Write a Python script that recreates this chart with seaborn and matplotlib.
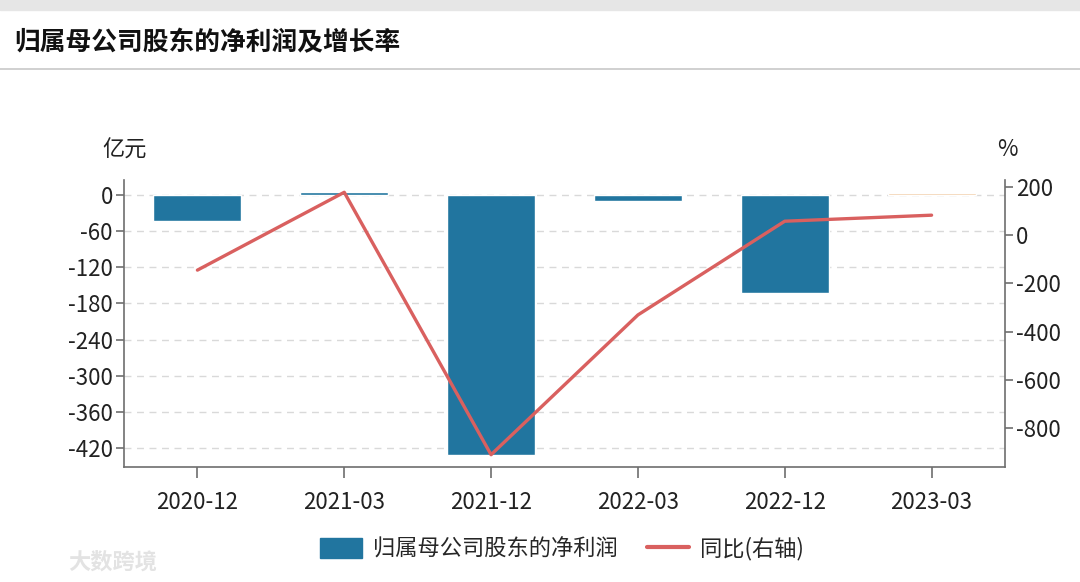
import numpy as np
import pandas as pd
import seaborn as sns
import matplotlib.pyplot as plt
import matplotlib.patches as mpatches
from matplotlib.lines import Line2D

# ---------------- data ----------------
periods = ['2020-12', '2021-03', '2021-12', '2022-03', '2022-12', '2023-03']
net_profit = [-43, 5, -432, -10, -162, 3]        # 亿元
yoy = [-145, 178, -911, -331, 58, 83]            # %
left_ticks = [0, -60, -120, -180, -240, -300, -360, -420]
right_ticks = [200, 0, -200, -400, -600, -800]

df = pd.DataFrame({'period': periods, 'profit': net_profit, 'yoy': yoy})
df['pos'] = np.arange(len(df))

# ---------------- style ----------------
sns.set_style('white')
plt.rcParams['font.family'] = ['Noto Sans CJK SC', 'DejaVu Sans']
plt.rcParams['axes.unicode_minus'] = False

bar_blue = '#21759f'
line_red = '#d9605f'
bar_cols = [bar_blue] * 5 + ['#f0c79c']
axis_col = '#6e6e6e'
txt_col = '#222222'

fig = plt.figure(figsize=(10.8, 5.82), dpi=100)
ax = fig.add_axes([124 / 1080, 1 - 467 / 582, (1005 - 124) / 1080, (467 - 180) / 582])

sns.barplot(data=df, x='period', y='profit', hue='period', palette=bar_cols,
            legend=False, width=0.6, saturation=1, ax=ax)
ax.set_xlim(-0.5, 5.5)
ax.set_ylim(-451.5, 24.9)
ax.set_yticks(left_ticks)
ax.set_yticklabels([str(t) for t in left_ticks])
ax.set_xlabel('')
ax.set_ylabel('')
ax.yaxis.grid(True, linestyle=(0, (5, 4)), color='#d9d9d9', linewidth=1)
ax.set_axisbelow(True)

# right axis: yoy
ax2 = ax.twinx()
sns.lineplot(data=df, x='pos', y='yoy', color=line_red, linewidth=2.4, ax=ax2)
ax2.set_ylim(-962, 229)
ax2.set_yticks(right_ticks)
ax2.set_yticklabels([str(t) for t in right_ticks])
ax2.set_xlim(-0.5, 5.5)
ax2.set_ylabel('')
ax2.set_xlabel('')

for a in (ax, ax2):
    a.spines['top'].set_visible(False)
    for s in ('left', 'right', 'bottom'):
        a.spines[s].set_color(axis_col)
        a.spines[s].set_linewidth(1.2)
ax.spines['right'].set_visible(False)
ax2.spines['left'].set_visible(False)
ax2.spines['bottom'].set_visible(False)

ax.tick_params(axis='y', left=True, length=6, width=1.2, color=axis_col, labelsize=16, pad=2, labelcolor=txt_col)
ax.tick_params(axis='x', bottom=True, length=8, width=1.2, color=axis_col, labelsize=16, pad=9, labelcolor=txt_col)
ax2.tick_params(axis='y', right=True, length=6, width=1.2, color=axis_col, labelsize=16, pad=2, labelcolor=txt_col)

# unit labels
fig.text(147 / 1080, 1 - 150 / 582, '亿元', ha='right', va='center', fontsize=16, color=txt_col)
fig.text(1007 / 1080, 1 - 150 / 582, '%', ha='center', va='center', fontsize=16, color=txt_col)

# header
fig.patches.append(mpatches.Rectangle((0, 1 - 10 / 582), 1, 10 / 582, transform=fig.transFigure,
                                      color='#e6e6e6', zorder=0))
fig.add_artist(Line2D([0, 1], [1 - 69 / 582, 1 - 69 / 582], transform=fig.transFigure,
                      color='#c8c8c8', linewidth=1.2))
fig.text(14 / 1080, 1 - 43 / 582, '归属母公司股东的净利润及增长率', ha='left', va='center',
         fontsize=18.5, fontweight='bold', color='#111111')

# legend
handles = [mpatches.Patch(color=bar_blue), Line2D([0], [0], color=line_red, linewidth=3)]
fig.legend(handles, ['归属母公司股东的净利润', '同比(右轴)'], loc='center',
           bbox_to_anchor=(562 / 1080, 1 - 549 / 582), ncol=2, frameon=False,
           fontsize=16, handlelength=1.9, handleheight=1.0, columnspacing=1.3, handletextpad=0.5)

# watermark
fig.text(68 / 1080, 1 - 562 / 582, '大数跨境', ha='left', va='center', fontsize=16,
         color='#e3e3e3', fontweight='bold')

fig.savefig('out.png', dpi=100)
